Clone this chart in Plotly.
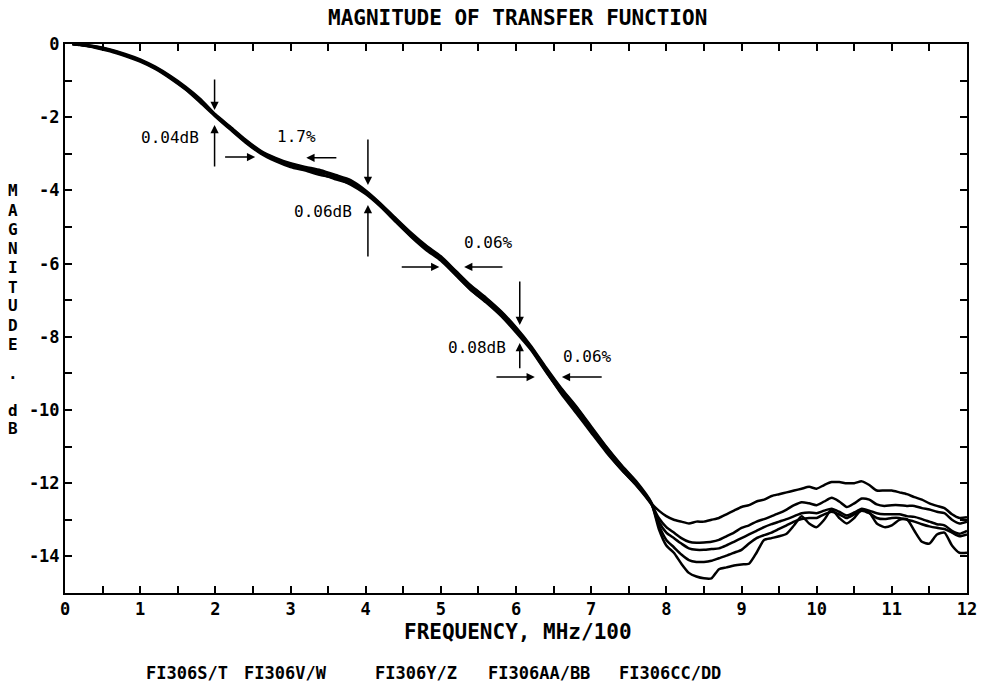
import plotly.graph_objects as go

# ---------------- data ----------------
FREQ = [0.1, 0.2, 0.4, 0.6, 0.8, 1.0, 1.2, 1.4, 1.6, 1.8, 2.0, 2.2, 2.4, 2.6, 2.8,
        3.0, 3.2, 3.4, 3.6, 3.8, 4.0, 4.2, 4.4, 4.6, 4.8, 5.0, 5.2, 5.4, 5.6, 5.8,
        6.0, 6.2, 6.4, 6.6, 6.8, 7.0, 7.2, 7.4, 7.6, 7.8,
        7.9, 8.0, 8.1, 8.2, 8.3, 8.4, 8.5, 8.6, 8.7, 8.8, 8.9, 9.0, 9.1, 9.2, 9.3,
        9.4, 9.5, 9.6, 9.7, 9.8, 9.9, 10.0, 10.1, 10.2, 10.3, 10.4, 10.5, 10.6,
        10.7, 10.8, 10.9, 11.0, 11.1, 11.2, 11.3, 11.4, 11.5, 11.6, 11.7, 11.8,
        11.9, 12.0]

MAG_A = [0.0, -0.02, -0.08, -0.17, -0.30, -0.45, -0.65, -0.90, -1.20, -1.55, -1.95, -2.30,
         -2.65, -2.95, -3.15, -3.30, -3.40, -3.50, -3.62, -3.78, -4.05, -4.40, -4.80,
         -5.20, -5.55, -5.85, -6.25, -6.65, -6.98, -7.35, -7.80, -8.30, -8.90, -9.45,
         -9.95, -10.50, -11.05, -11.55, -12.00, -12.55,
         -12.75, -12.90, -13.00, -13.05, -13.10, -13.05, -13.05, -13.00, -12.95, -12.85,
         -12.75, -12.65, -12.60, -12.50, -12.45, -12.35, -12.30, -12.25, -12.20, -12.15,
         -12.10, -12.15, -12.05, -11.97, -11.97, -12.00, -12.00, -11.95, -12.05, -12.20,
         -12.20, -12.20, -12.25, -12.30, -12.38, -12.45, -12.55, -12.62, -12.68, -12.85,
         -12.95, -12.93]

MAG_B = [0.0, -0.03, -0.10, -0.20, -0.33, -0.48, -0.68, -0.94, -1.24, -1.60, -1.98, -2.34,
         -2.69, -2.99, -3.20, -3.36, -3.46, -3.58, -3.66, -3.84, -4.10, -4.45, -4.86,
         -5.26, -5.62, -5.92, -6.32, -6.72, -7.06, -7.43, -7.88, -8.36, -8.96, -9.52,
         -10.02, -10.58, -11.12, -11.62, -12.06, -12.58,
         -12.95, -13.20, -13.35, -13.50, -13.60, -13.63, -13.62, -13.60, -13.55, -13.45,
         -13.35, -13.22, -13.15, -13.05, -12.98, -12.90, -12.82, -12.72, -12.60, -12.52,
         -12.55, -12.60, -12.50, -12.40, -12.50, -12.65, -12.55, -12.42, -12.45, -12.58,
         -12.62, -12.60, -12.60, -12.62, -12.62, -12.68, -12.72, -12.78, -12.82, -13.00,
         -13.10, -13.05]

MAG_C = [0.0, -0.01, -0.06, -0.15, -0.27, -0.42, -0.62, -0.87, -1.16, -1.50, -1.92, -2.26,
         -2.61, -2.91, -3.11, -3.26, -3.36, -3.45, -3.58, -3.72, -4.00, -4.36, -4.76,
         -5.15, -5.50, -5.80, -6.20, -6.60, -6.93, -7.30, -7.74, -8.25, -8.84, -9.40,
         -9.90, -10.45, -11.00, -11.50, -11.95, -12.52,
         -13.05, -13.35, -13.50, -13.65, -13.78, -13.82, -13.82, -13.80, -13.78, -13.70,
         -13.60, -13.50, -13.40, -13.30, -13.20, -13.12, -13.05, -12.98, -12.90, -12.82,
         -12.80, -12.82, -12.75, -12.70, -12.78, -12.88, -12.80, -12.70, -12.75, -12.82,
         -12.85, -12.85, -12.85, -12.90, -12.92, -12.98, -13.05, -13.12, -13.15, -13.30,
         -13.38, -13.30]

MAG_D = [0.0, -0.02, -0.09, -0.18, -0.31, -0.46, -0.66, -0.92, -1.22, -1.57, -1.96, -2.32,
         -2.67, -2.97, -3.17, -3.32, -3.43, -3.55, -3.70, -3.82, -4.07, -4.43, -4.84,
         -5.24, -5.58, -5.88, -6.30, -6.72, -7.04, -7.40, -7.84, -8.33, -8.94, -9.55,
         -10.08, -10.62, -11.15, -11.62, -12.05, -12.56,
         -13.15, -13.55, -13.75, -13.95, -14.10, -14.15, -14.15, -14.12, -14.05, -13.98,
         -13.90, -13.82, -13.65, -13.50, -13.42, -13.35, -13.25, -13.15, -13.05, -12.98,
         -12.95, -12.95, -12.85, -12.78, -12.85, -12.95, -12.85, -12.75, -12.82, -12.95,
         -12.98, -12.95, -12.95, -13.00, -13.05, -13.12, -13.18, -13.22, -13.25, -13.35,
         -13.45, -13.40]

MAG_E = [0.0, -0.02, -0.07, -0.16, -0.29, -0.44, -0.64, -0.89, -1.19, -1.53, -1.94, -2.28,
         -2.63, -2.93, -3.13, -3.28, -3.38, -3.48, -3.60, -3.76, -4.03, -4.38, -4.78,
         -5.18, -5.52, -5.83, -6.22, -6.62, -6.95, -7.32, -7.77, -8.28, -8.87, -9.42,
         -9.92, -10.48, -11.02, -11.52, -11.98, -12.54,
         -13.25, -13.70, -13.90, -14.20, -14.45, -14.55, -14.60, -14.60, -14.35, -14.30,
         -14.25, -14.22, -14.20, -13.90, -13.55, -13.50, -13.45, -13.38, -13.15, -12.90,
         -13.10, -13.20, -13.00, -12.72, -12.95, -13.10, -12.95, -12.72, -12.80, -13.10,
         -13.20, -13.15, -13.00, -12.98, -13.30, -13.60, -13.65, -13.40, -13.35, -13.70,
         -13.90, -13.90]

SERIES = [MAG_A, MAG_B, MAG_C, MAG_D, MAG_E]

X_TICKS = [i * 0.5 for i in range(25)]
X_TICK_TEXT = [str(int(v)) if v == int(v) else "" for v in X_TICKS]
Y_TICKS = list(range(-15, 1))
Y_TICK_TEXT = [str(v) if v % 2 == 0 else "" for v in Y_TICKS]

TITLE = "MAGNITUDE OF TRANSFER FUNCTION"
X_TITLE = "FREQUENCY, MHz/100"
Y_TITLE_LETTERS = ["M", "A", "G", "N", "I", "T", "U", "D", "E", ".", "d", "B"]
Y_TITLE_POS = [-4.0, -4.55, -5.08, -5.6, -6.1, -6.65, -7.15, -7.7, -8.2, -9.0, -10.0, -10.5]
LEGEND_NAMES = ["FI306S/T", "FI306V/W", "FI306Y/Z", "FI306AA/BB", "FI306CC/DD"]
LEGEND_X = [1.05, 2.35, 4.1, 5.6, 7.35]

# spec annotations: text, x, y
NOTE_TEXT = ["0.04dB", "1.7%", "0.06dB", "0.06%", "0.08dB", "0.06%"]
NOTE_X = [1.40, 3.08, 3.43, 5.64, 5.48, 6.95]
NOTE_Y = [-2.55, -2.54, -4.59, -5.41, -8.28, -8.55]

# arrows: (tail x, tail y) -> (head x, head y)
ARROW_TAIL_X = [1.99, 1.99, 2.11, 3.63, 4.03, 4.03, 4.46, 5.84, 6.05, 6.05, 5.72, 7.16]
ARROW_TAIL_Y = [-0.93, -3.39, -3.09, -3.11, -2.57, -5.85, -6.09, -6.09, -6.45, -8.90, -9.10, -9.10]
ARROW_HEAD_X = [1.99, 1.99, 2.53, 3.21, 4.03, 4.03, 4.98, 5.31, 6.05, 6.05, 6.25, 6.61]
ARROW_HEAD_Y = [-1.80, -2.21, -3.09, -3.11, -3.85, -4.40, -6.09, -6.09, -7.68, -8.17, -9.10, -9.10]

# ---------------- figure ----------------
PLOT_FONT = "DejaVu Sans Mono"
fig = go.Figure()
for ys in SERIES:
    fig.add_trace(go.Scatter(x=FREQ, y=ys, mode="lines",
                             line=dict(color="black", width=2.5, shape="spline", smoothing=0.6),
                             showlegend=False, hoverinfo="skip"))

annotations = []
for t, x, y in zip(NOTE_TEXT, NOTE_X, NOTE_Y):
    annotations.append(dict(x=x, y=y, xref="x", yref="y", text=t, showarrow=False,
                            xanchor="center", yanchor="middle",
                            font=dict(family=PLOT_FONT, size=16, color="black")))
for tx, ty, hx, hy in zip(ARROW_TAIL_X, ARROW_TAIL_Y, ARROW_HEAD_X, ARROW_HEAD_Y):
    annotations.append(dict(x=hx, y=hy, ax=tx, ay=ty, xref="x", yref="y",
                            axref="x", ayref="y", text="", showarrow=True,
                            arrowhead=2, arrowsize=1.1, arrowwidth=1.5, arrowcolor="black"))
for ch, yy in zip(Y_TITLE_LETTERS, Y_TITLE_POS):
    annotations.append(dict(x=-0.058, y=yy, xref="paper", yref="y", text=ch, showarrow=False,
                            xanchor="center", yanchor="middle",
                            font=dict(family=PLOT_FONT, size=16, color="black", weight="bold")))
annotations.append(dict(x=0.502, y=1.047, xref="paper", yref="paper", text=TITLE,
                        showarrow=False, xanchor="center", yanchor="middle",
                        font=dict(family=PLOT_FONT, size=21, color="black", weight="bold")))
annotations.append(dict(x=0.502, y=-0.071, xref="paper", yref="paper", text=X_TITLE,
                        showarrow=False, xanchor="center", yanchor="middle",
                        font=dict(family=PLOT_FONT, size=21, color="black", weight="bold")))
for name, lx in zip(LEGEND_NAMES, LEGEND_X):
    annotations.append(dict(x=lx, y=-0.146, xref="x", yref="paper", text=name,
                            showarrow=False, xanchor="left", yanchor="middle",
                            font=dict(family=PLOT_FONT, size=17, color="black", weight="bold")))

axis_common = dict(showgrid=False, zeroline=False, showline=True, linecolor="black",
                   linewidth=2, mirror="ticks", ticks="inside", tickcolor="black",
                   tickwidth=1.5, ticklen=7,
                   tickfont=dict(family=PLOT_FONT, size=17, color="black", weight="bold"))

fig.update_layout(
    width=989, height=684,
    margin=dict(l=65, r=17, t=44, b=91),
    paper_bgcolor="white", plot_bgcolor="white",
    xaxis=dict(range=[0, 12], tickvals=X_TICKS, ticktext=X_TICK_TEXT, **axis_common),
    yaxis=dict(range=[-15, 0], tickvals=Y_TICKS, ticktext=Y_TICK_TEXT, **axis_common),
    annotations=annotations,
)

fig.write_html("out.html")
